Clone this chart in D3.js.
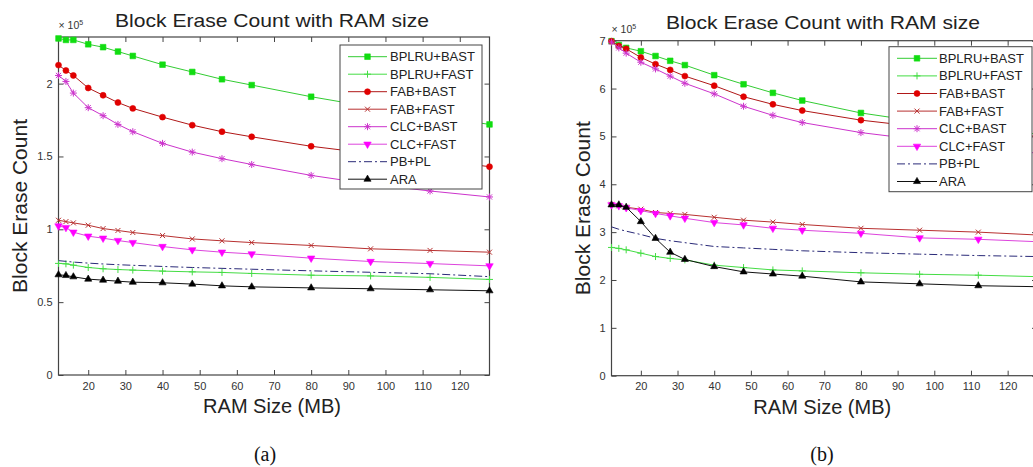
<!DOCTYPE html>
<html>
<head>
<meta charset="utf-8">
<script src="https://cdn.jsdelivr.net/npm/d3@7.9.0/dist/d3.min.js"></script>
<style>
  body { margin: 0; background: #fff; }
  svg { display: block; }
  text { font-family: "Liberation Sans", Arial, sans-serif; fill: #222; }
  text.caption { font-family: "Liberation Serif", "Times New Roman", serif; fill: #111; }
</style>
</head>
<body>
<svg id="chart" width="1033" height="467"></svg>
<script>
// RAM sizes (MB) on the x axis
const ramSizes = [12, 14, 16, 20, 24, 28, 32, 40, 48, 56, 64, 80, 96, 112, 128];
const seriesNames = ['BPLRU+BAST', 'BPLRU+FAST', 'FAB+BAST', 'FAB+FAST', 'CLC+BAST', 'CLC+FAST', 'PB+PL', 'ARA'];
const xTicks = [20, 30, 40, 50, 60, 70, 80, 90, 100, 110, 120];
const yTicksA = [0, 0.5, 1, 1.5, 2];
const yTicksB = [0, 1, 2, 3, 4, 5, 6, 7];

// Panel (a), block erase count in units of 10^5
const bplruBastA = [2.31, 2.30, 2.30, 2.27, 2.25, 2.22, 2.19, 2.13, 2.08, 2.03, 1.99, 1.91, 1.84, 1.78, 1.72];
const bplruFastA = [0.766, 0.763, 0.754, 0.738, 0.729, 0.724, 0.72, 0.713, 0.708, 0.704, 0.697, 0.685, 0.68, 0.67, 0.656];
const fabBastA = [2.127, 2.09, 2.056, 1.97, 1.92, 1.87, 1.83, 1.77, 1.715, 1.67, 1.635, 1.57, 1.52, 1.48, 1.43];
const fabFastA = [1.062, 1.053, 1.044, 1.028, 1.005, 0.992, 0.978, 0.957, 0.934, 0.921, 0.909, 0.889, 0.866, 0.855, 0.843];
const clcBastA = [2.056, 2.015, 1.935, 1.835, 1.78, 1.72, 1.67, 1.59, 1.53, 1.485, 1.445, 1.37, 1.31, 1.263, 1.222];
const clcFastA = [1.023, 1.012, 0.98, 0.953, 0.939, 0.923, 0.909, 0.882, 0.859, 0.843, 0.831, 0.802, 0.779, 0.765, 0.749];
const pbPlA = [0.785, 0.78, 0.775, 0.768, 0.762, 0.757, 0.753, 0.745, 0.738, 0.732, 0.726, 0.715, 0.705, 0.695, 0.675];
const araA = [0.688, 0.683, 0.674, 0.658, 0.651, 0.644, 0.637, 0.633, 0.624, 0.612, 0.605, 0.598, 0.592, 0.585, 0.578];

// Panel (b)
const bplruBastB = [6.99, 6.91, 6.85, 6.78, 6.68, 6.58, 6.49, 6.28, 6.09, 5.91, 5.75, 5.49, 5.31, 5.17, 5.05];
const bplruFastB = [2.68, 2.66, 2.63, 2.56, 2.49, 2.45, 2.42, 2.31, 2.26, 2.21, 2.19, 2.15, 2.12, 2.10, 2.07];
const fabBastB = [6.99, 6.89, 6.83, 6.65, 6.51, 6.39, 6.26, 6.06, 5.83, 5.67, 5.54, 5.34, 5.2, 5.1, 5.0];
const fabFastB = [3.58, 3.55, 3.52, 3.48, 3.41, 3.39, 3.37, 3.31, 3.25, 3.21, 3.16, 3.08, 3.04, 3.0, 2.94];
const clcBastB = [6.97, 6.85, 6.74, 6.55, 6.41, 6.26, 6.11, 5.89, 5.63, 5.44, 5.29, 5.08, 4.93, 4.78, 4.65];
const clcFastB = [3.57, 3.55, 3.51, 3.45, 3.39, 3.34, 3.29, 3.2, 3.15, 3.08, 3.04, 2.975, 2.88, 2.85, 2.80];
const pbPlB = [3.11, 3.06, 3.02, 2.95, 2.87, 2.82, 2.78, 2.70, 2.67, 2.64, 2.61, 2.57, 2.54, 2.51, 2.49];
const araB = [3.57, 3.57, 3.52, 3.22, 2.87, 2.58, 2.43, 2.28, 2.17, 2.125, 2.08, 1.96, 1.92, 1.88, 1.86];

// Line / marker style for each series (same order as seriesNames)
const styles = [
    { stroke: '#33cc33', fill: '#11dd11', marker: 'square' },
    { stroke: '#44dd44', fill: 'none', marker: 'plus' },
    { stroke: '#b01818', fill: '#e00000', marker: 'circle' },
    { stroke: '#b83030', fill: 'none', marker: 'x' },
    { stroke: '#cc33cc', fill: 'none', marker: 'star' },
    { stroke: '#dd44dd', fill: '#ff00ff', marker: 'tridown' },
    { stroke: '#2a2a78', fill: 'none', marker: 'none', dash: '8,3,2,3' },
    { stroke: '#111', fill: '#000', marker: 'triup' }
];

const panels = [
    {
        left: 58.5, right: 489.5, top: 37, bottom: 375, yMax: 2.32, yTicks: yTicksA,
        series: [bplruBastA, bplruFastA, fabBastA, fabFastA, clcBastA, clcFastA, pbPlA, araA],
        titleX: 272, titleY: 27, xLabelY: 413, yLabelX: 27,
        legend: { x: 340, y: 45, w: 142, h: 144, first: 56.7, step: 17.5, l0: 348, l1: 387, tx: 390 },
        caption: '(a)', captionX: 265
    },
    {
        left: 611.5, right: 1037, top: 40.7, bottom: 375.7, yMax: 7, yTicks: yTicksB,
        series: [bplruBastB, bplruFastB, fabBastB, fabFastB, clcBastB, clcFastB, pbPlB, araB],
        titleX: 823, titleY: 29, xLabelY: 414, yLabelX: 590,
        legend: { x: 889, y: 46.7, w: 143, h: 145, first: 58.3, step: 17.6, l0: 897, l1: 937, tx: 939 },
        caption: '(b)', captionX: 822
    }
];

const svg = d3.select('#chart');

// Marker shapes, centred on 0,0
function markerPath(type) {
    switch (type) {
        case 'square': return d3.symbol(d3.symbolSquare, 32)();
        case 'circle': return d3.symbol(d3.symbolCircle, 28)();
        case 'triup': return d3.symbol(d3.symbolTriangle, 22)();
        case 'tridown': return d3.symbol(d3.symbolTriangle, 24)();
        case 'plus': return 'M-3.5,0H3.5M0,-3.5V3.5';
        case 'x': return 'M-2.5,-2.5L2.5,2.5M-2.5,2.5L2.5,-2.5';
        case 'star': return 'M-3.5,0H3.5M0,-3.5V3.5M-2.6,-2.6L2.6,2.6M-2.6,2.6L2.6,-2.6';
    }
    return null;
}

function drawMarker(g, st, cx, cy) {
    if (st.marker === 'none') return;
    const filled = st.fill !== 'none';
    g.append('path')
        .attr('d', markerPath(st.marker))
        .attr('transform', `translate(${cx},${cy})` + (st.marker === 'tridown' ? ' rotate(180)' : ''))
        .attr('fill', filled ? st.fill : 'none')
        .attr('stroke', filled ? st.fill : st.stroke)
        .attr('stroke-width', filled ? 0.6 : 1);
}

function drawPanel(p) {
    const x = d3.scaleLinear().domain([12, 128]).range([p.left, p.right]);
    const y = d3.scaleLinear().domain([0, p.yMax]).range([p.bottom, p.top]);
    const g = svg.append('g');

    // Axes with inward ticks on all four sides
    g.append('g')
        .attr('transform', `translate(0,${p.bottom})`)
        .call(d3.axisBottom(x).tickValues(xTicks).tickSizeInner(-5).tickSizeOuter(0).tickPadding(7));
    g.append('g')
        .attr('transform', `translate(0,${p.top})`)
        .call(d3.axisTop(x).tickValues(xTicks).tickSizeInner(-5).tickSizeOuter(0).tickFormat(''));
    g.append('g')
        .attr('transform', `translate(${p.left},0)`)
        .call(d3.axisLeft(y).tickValues(p.yTicks).tickSizeInner(-5).tickSizeOuter(0).tickPadding(6).tickFormat(d => d));
    g.append('g')
        .attr('transform', `translate(${p.right},0)`)
        .call(d3.axisRight(y).tickValues(p.yTicks).tickSizeInner(-5).tickSizeOuter(0).tickFormat(''));

    g.selectAll('.domain').remove();
    g.selectAll('.tick line').attr('stroke', '#444');
    g.selectAll('.tick text').attr('font-size', 11).style('fill', '#333');

    // Plot frame
    g.append('rect')
        .attr('x', p.left).attr('y', p.top)
        .attr('width', p.right - p.left).attr('height', p.bottom - p.top)
        .attr('fill', 'none').attr('stroke', '#444').attr('stroke-width', 1.2);

    // Lines and markers
    const line = d3.line().x((d, i) => x(ramSizes[i])).y(d => y(d));
    p.series.forEach((values, idx) => {
        const st = styles[idx];
        g.append('path')
            .datum(values)
            .attr('d', line)
            .attr('fill', 'none')
            .attr('stroke', st.stroke)
            .attr('stroke-width', 1)
            .attr('stroke-dasharray', st.dash || null);
        values.forEach((v, i) => drawMarker(g, st, x(ramSizes[i]), y(v)));
    });

    // Legend box drawn over the lines
    const lg = p.legend;
    g.append('rect')
        .attr('x', lg.x).attr('y', lg.y).attr('width', lg.w).attr('height', lg.h)
        .attr('fill', '#fff').attr('stroke', '#444').attr('stroke-width', 1);
    seriesNames.forEach((name, idx) => {
        const st = styles[idx];
        const ly = lg.first + idx * lg.step;
        g.append('line')
            .attr('x1', lg.l0).attr('x2', lg.l1).attr('y1', ly).attr('y2', ly)
            .attr('stroke', st.stroke).attr('stroke-width', 1)
            .attr('stroke-dasharray', st.dash || null);
        drawMarker(g, st, (lg.l0 + lg.l1) / 2, ly);
        g.append('text')
            .attr('x', lg.tx).attr('y', ly + 4.5)
            .attr('font-size', 13)
            .text(name);
    });

    // "x 10^5" exponent label
    const ex = g.append('text')
        .attr('x', p.left).attr('y', p.top - 8)
        .attr('font-size', 10.5).style('fill', '#333');
    ex.append('tspan').text('\u00d7 10');
    ex.append('tspan').attr('font-size', 7).attr('dy', -4).text('5');

    // Title and axis labels
    g.append('text')
        .attr('x', p.titleX).attr('y', p.titleY)
        .attr('text-anchor', 'middle').attr('font-size', 19)
        .attr('textLength', 314).attr('lengthAdjust', 'spacingAndGlyphs')
        .text('Block Erase Count with RAM size');
    g.append('text')
        .attr('x', (p.left + p.right) / 2 - 2).attr('y', p.xLabelY)
        .attr('text-anchor', 'middle').attr('font-size', 20)
        .text('RAM Size (MB)');
    g.append('text')
        .attr('transform', `translate(${p.yLabelX},${(p.top + p.bottom) / 2}) rotate(-90)`)
        .attr('text-anchor', 'middle').attr('font-size', 21)
        .text('Block Erase Count');

    // Sub-figure caption
    g.append('text')
        .attr('class', 'caption')
        .attr('x', p.captionX).attr('y', 461)
        .attr('text-anchor', 'middle').attr('font-size', 20)
        .text(p.caption);
}

panels.forEach(drawPanel);
</script>
</body>
</html>
